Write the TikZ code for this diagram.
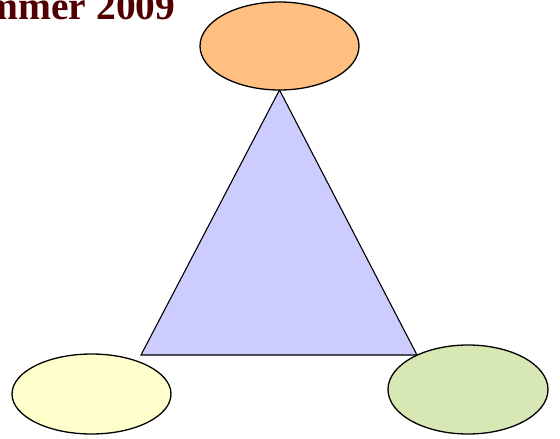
\documentclass[tikz,border=0pt]{standalone}
\usepackage{fontspec}
\setmainfont{Liberation Serif}
\usetikzlibrary{shapes.geometric}
\definecolor{titlered}{RGB}{80,0,0}
\definecolor{orangefill}{RGB}{255,191,128}
\definecolor{yellowfill}{RGB}{255,255,204}
\definecolor{greenfill}{RGB}{216,232,180}
\definecolor{trifill}{RGB}{204,204,255}
\tikzset{
  blob/.style={ellipse, draw=black, line width=1.3pt, inner sep=0pt},
  tri/.style={draw=black, line width=1.1pt, fill=trifill, line join=miter}
}
\begin{document}
\begin{tikzpicture}[x=1pt,y=-1pt]
\useasboundingbox (0,0) rectangle (560,439);
\clip (0,0) rectangle (560,439);
\node[anchor=base east, inner sep=0pt, text=titlered, font=\bfseries\fontsize{39.5}{44}\selectfont] (title) at (175.5,19.5) {Summer 2009};
\coordinate (apex) at (279.5,90);
\coordinate (bl) at (141,355);
\coordinate (br) at (417,355);
\draw[tri] (apex) -- (br) -- (bl) -- cycle;
\node[blob, fill=orangefill, minimum width=159pt, minimum height=88pt] (top) at (279.5,46) {};
\node[blob, fill=yellowfill, minimum width=159pt, minimum height=80pt] (left) at (91.5,394) {};
\node[blob, fill=greenfill, minimum width=160pt, minimum height=89pt] (right) at (468,389.5) {};
\end{tikzpicture}
\end{document}
